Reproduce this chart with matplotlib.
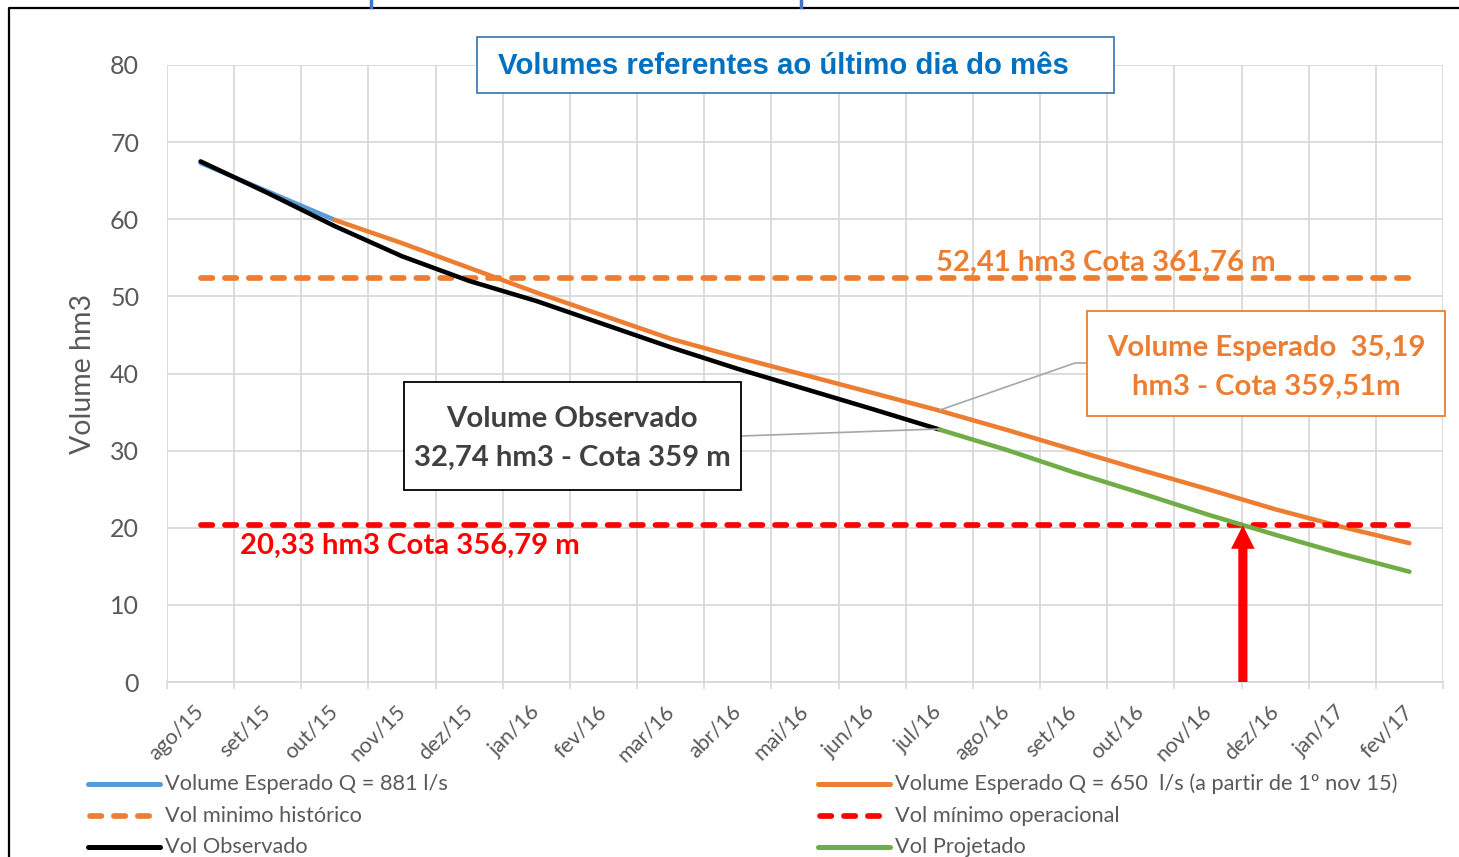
import numpy as np
import matplotlib
matplotlib.use("Agg")
import matplotlib.pyplot as plt
from matplotlib.lines import Line2D
from matplotlib.patches import Rectangle

# data (hm3, value at the last day of each month)
months = ["ago/15", "set/15", "out/15", "nov/15", "dez/15", "jan/16", "fev/16",
          "mar/16", "abr/16", "mai/16", "jun/16", "jul/16", "ago/16", "set/16",
          "out/16", "nov/16", "dez/16", "jan/17", "fev/17"]
esperado_881 = [67.3, 63.6, 59.9]  # ago/15 .. out/15
esperado_650 = [59.9, 56.9, 53.7, 50.5, 47.5, 44.5, 42.1, 39.8, 37.5, 35.19,
                32.7, 30.1, 27.5, 25.0, 22.4, 20.1, 18.0]  # out/15 .. fev/17
observado = [67.5, 63.4, 59.1, 55.2, 52.0, 49.4, 46.4, 43.4, 40.6, 38.0,
             35.4, 32.74]  # ago/15 .. jul/16
projetado = [32.74, 30.1, 27.2, 24.5, 21.7, 19.1, 16.6, 14.3]  # jul/16 .. fev/17
vol_min_historico = 52.41
vol_min_operacional = 20.33
arrow_x = 15.52  # where projected volume reaches the operational minimum

ORANGE = "#ED7D31"
BLUE = "#5B9BD5"
GREEN = "#70AD47"
RED = "#FF0000"
GRAY_TXT = "#595959"
GRID = "#D9D9D9"

plt.rcParams["font.family"] = ["Lato", "DejaVu Sans"]

W, H = 1459, 857
def fx(px):
    return px / W
def fy(py):
    return 1 - py / H

fig = plt.figure(figsize=(W / 100, H / 100), dpi=100)
ax = fig.add_axes([fx(167), fy(682), (1443 - 167) / W, (682 - 65) / H])

x = np.arange(len(months))
lw = 3.25
dash_lw = 4.1

ax.plot(x[:3], esperado_881, color=BLUE, lw=lw, solid_capstyle="round", zorder=3)
ax.plot(x[2:], esperado_650, color=ORANGE, lw=lw, solid_capstyle="round", zorder=4)
ax.hlines(vol_min_historico, x[0], x[-1], color=ORANGE, lw=dash_lw,
          linestyles=(0, (2, 2.2)), capstyle="round", zorder=5)
ax.hlines(vol_min_operacional, x[0], x[-1], color=RED, lw=dash_lw,
          linestyles=(0, (2, 2.2)), capstyle="round", zorder=5)
ax.plot(x[:12], observado, color="black", lw=lw, solid_capstyle="round", zorder=6)
ax.plot(x[11:], projetado, color=GREEN, lw=lw, solid_capstyle="round", zorder=6)

ax.annotate("", xy=(arrow_x, vol_min_operacional), xytext=(arrow_x, 0),
            arrowprops=dict(arrowstyle="simple,head_length=0.85,head_width=0.85,tail_width=0.33",
                            color=RED, lw=0, shrinkA=0, shrinkB=0, mutation_scale=20),
            zorder=7)

ax.set_xlim(-0.5, len(months) - 0.5)
ax.set_ylim(0, 80)
ax.set_yticks(np.arange(0, 81, 10))
ax.set_xticks(np.arange(-0.5, len(months), 1.0))
ax.set_xticklabels([])
ax.set_xticks(x, minor=True)
ax.set_xticklabels(months, minor=True, rotation=45, ha="right", va="center",
                   rotation_mode="anchor", fontsize=15.5, color=GRAY_TXT)
ax.tick_params(axis="x", which="major", length=5, color=GRID, width=1.2)
ax.tick_params(axis="x", which="minor", length=0, pad=19)
ax.tick_params(axis="y", length=0, pad=20, labelsize=18, labelcolor=GRAY_TXT)
ax.grid(True, which="major", color=GRID, lw=1.3)
ax.set_axisbelow(True)
for s in ["top", "right", "left"]:
    ax.spines[s].set_visible(False)
ax.spines["bottom"].set_color(GRID)
ax.spines["bottom"].set_linewidth(1.3)
fig.text(fx(83), fy(374), "Volume hm3", rotation=90, ha="center", va="center",
         fontsize=20.5, color=GRAY_TXT)

# title box
fig.patches.append(Rectangle((fx(477), fy(93)), fx(1114) - fx(477), fy(37) - fy(93),
                             transform=fig.transFigure, fill=True, facecolor="white",
                             edgecolor="#2E75B6", lw=1.2, zorder=10))
fig.text(fx(783), fy(66), "Volumes referentes ao último dia do mês", ha="center",
         va="center", fontsize=21.2, fontweight="bold", color="#0070C0",
         family="Liberation Sans", zorder=11)

BOLD = 21.1
# observed box
fig.patches.append(Rectangle((fx(404), fy(490)), fx(741) - fx(404), fy(382) - fy(490),
                             transform=fig.transFigure, facecolor="white",
                             edgecolor="black", lw=1.3, zorder=10))
fig.text(fx(572), fy(419), "Volume Observado", ha="center", va="center",
         fontsize=BOLD, fontweight="bold", color="#404040", zorder=11)
fig.text(fx(572), fy(458), "32,74 hm3 - Cota 359 m", ha="center", va="center",
         fontsize=BOLD, fontweight="bold", color="#404040", zorder=11)
fig.lines.append(Line2D([fx(741), fx(938)], [fy(436), fy(429)], transform=fig.transFigure,
                        color="#A6A6A6", lw=1.2, zorder=9))

# expected box
fig.patches.append(Rectangle((fx(1087), fy(416)), fx(1445) - fx(1087), fy(311) - fy(416),
                             transform=fig.transFigure, facecolor="white",
                             edgecolor=ORANGE, lw=1.3, zorder=10))
fig.text(fx(1266), fy(348), "Volume Esperado  35,19", ha="center", va="center",
         fontsize=BOLD, fontweight="bold", color=ORANGE, zorder=11)
fig.text(fx(1266), fy(387), "hm3 - Cota 359,51m", ha="center", va="center",
         fontsize=BOLD, fontweight="bold", color=ORANGE, zorder=11)
fig.lines.append(Line2D([fx(940), fx(1075), fx(1087)], [fy(410), fy(363), fy(363)],
                        transform=fig.transFigure, color="#A6A6A6", lw=1.2, zorder=9))

fig.text(fx(1106), fy(263), "52,41 hm3 Cota 361,76 m", ha="center", va="center",
         fontsize=BOLD, fontweight="bold", color=ORANGE, zorder=11)
fig.text(fx(410), fy(546), "20,33 hm3 Cota 356,79 m", ha="center", va="center",
         fontsize=BOLD, fontweight="bold", color=RED, zorder=11)

# legend (drawn by hand, two columns)
legend_items = [
    (88, 784, BLUE, "-", "Volume Esperado Q = 881 l/s"),
    (88, 816, ORANGE, "--", "Vol minimo histórico"),
    (88, 847, "black", "-", "Vol Observado"),
    (818, 784, ORANGE, "-", "Volume Esperado Q = 650  l/s (a partir de 1º nov 15)"),
    (818, 816, RED, "--", "Vol mínimo operacional"),
    (818, 847, GREEN, "-", "Vol Projetado"),
]
for lx, ly, col, style, label in legend_items:
    if style == "-":
        ln = Line2D([fx(lx), fx(lx + 72)], [fy(ly), fy(ly)], transform=fig.transFigure,
                    color=col, lw=3.6, solid_capstyle="round")
    else:
        ln = Line2D([fx(lx + 2), fx(lx + 72)], [fy(ly), fy(ly)], transform=fig.transFigure,
                    color=col, lw=dash_lw, dashes=(2, 2.2), dash_capstyle="round")
    fig.lines.append(ln)
    fig.text(fx(lx + 77), fy(ly), label, ha="left", va="center", fontsize=15.7,
             color=GRAY_TXT)

# outer frame and marks from the page above
fig.lines.append(Line2D([fx(9), fx(9), fx(1459)], [fy(857), fy(8), fy(8)],
                        transform=fig.transFigure, color="black", lw=1.6))
for bx in (371, 801):
    fig.lines.append(Line2D([fx(bx), fx(bx)], [fy(0), fy(7)], transform=fig.transFigure,
                            color="#4472C4", lw=2.5))

fig.savefig("out.png", dpi=100)
